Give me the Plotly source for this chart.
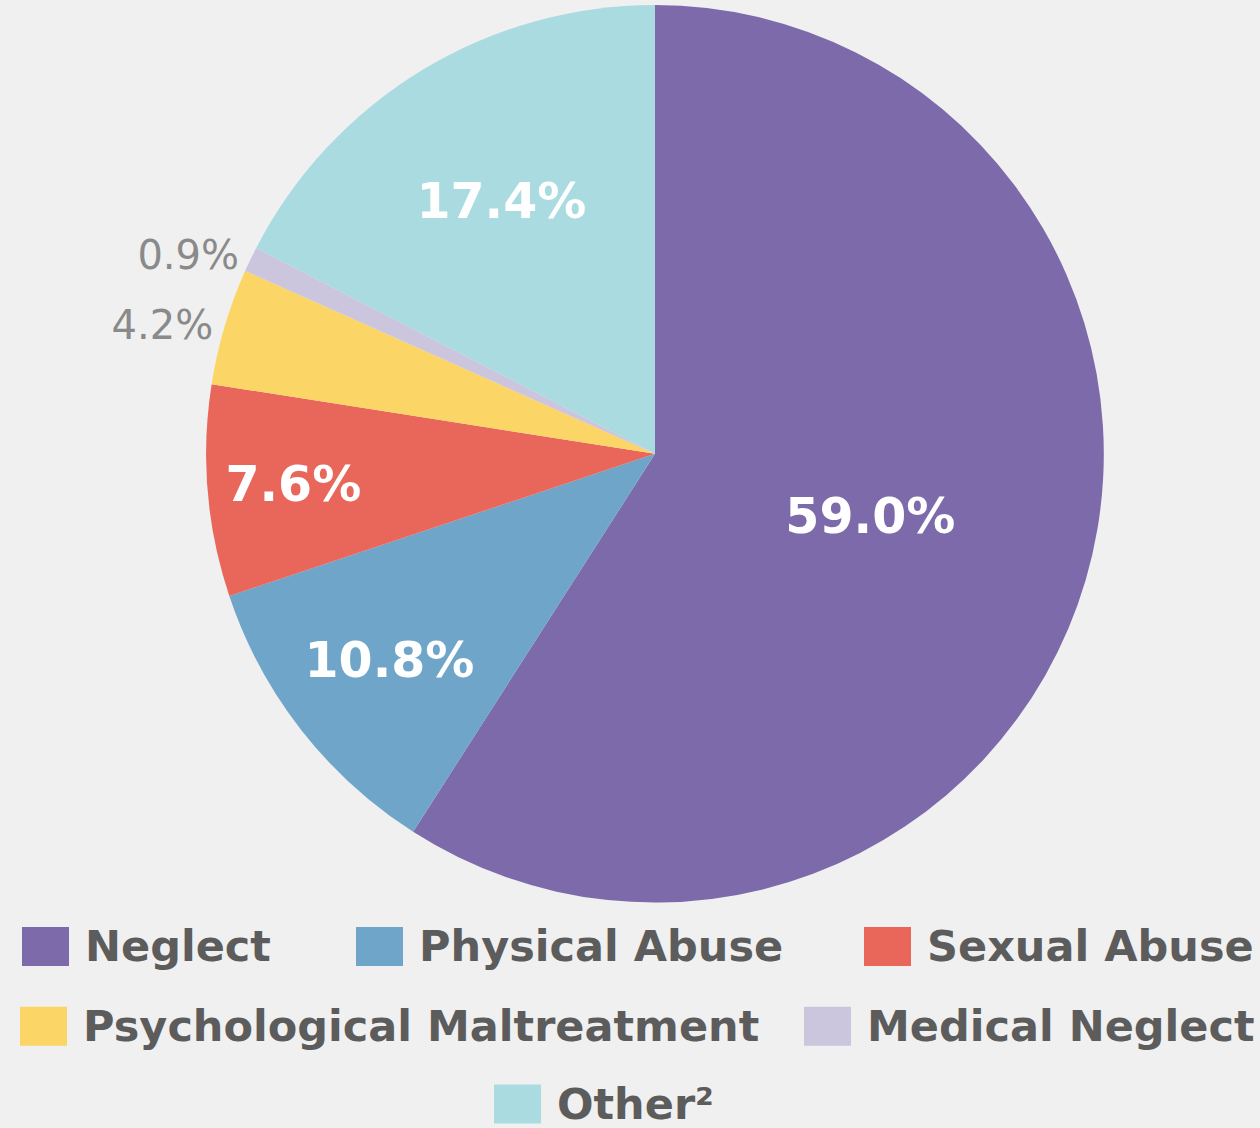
import plotly.graph_objects as go

categories = ["Neglect", "Physical Abuse", "Sexual Abuse",
              "Psychological Maltreatment", "Medical Neglect", "Other²"]
values = [59.0, 10.8, 7.6, 4.2, 0.9, 17.4]
value_labels = ["59.0%", "10.8%", "7.6%", "4.2%", "0.9%", "17.4%"]
colors = ["#7d6aaa", "#6ea5c9", "#e9665a", "#fbd566", "#cbc6de", "#a9dbe0"]
label_positions = ["inside", "inside", "inside", "outside", "outside", "inside"]

W, H = 1260, 1128
CX, CY, R = 655, 452, 450

fig = go.Figure()
fig.add_trace(go.Pie(
    labels=categories,
    values=values,
    text=value_labels,
    textinfo="text",
    textposition=label_positions,
    insidetextorientation="horizontal",
    insidetextfont=dict(family="DejaVu Sans", size=49, color="white", weight="bold"),
    outsidetextfont=dict(family="DejaVu Sans", size=40, color="#8a8a8a"),
    marker=dict(colors=colors, line=dict(width=0)),
    sort=False,
    direction="clockwise",
    rotation=0,
    showlegend=False,
    hoverinfo="label+text",
    domain=dict(x=[(CX - R) / W, (CX + R) / W], y=[1 - (CY + R) / H, 1 - (CY - R) / H]),
))

# Custom legend (large swatches) built from the category/color lists
legend_rows = [[0, 1, 2], [3, 4], [5]]
swatch_x = {0: 22, 1: 356, 2: 864, 3: 20, 4: 804, 5: 494}
row_y = [946, 1026, 1104]
sw_w, sw_h = 47, 39
shapes = []
annotations = []
for r, row in enumerate(legend_rows):
    cy = row_y[r]
    for i in row:
        x0 = swatch_x[i]
        shapes.append(dict(type="rect", xref="paper", yref="paper",
                           x0=x0 / W, x1=(x0 + sw_w) / W,
                           y0=1 - (cy + sw_h / 2) / H, y1=1 - (cy - sw_h / 2) / H,
                           fillcolor=colors[i], line=dict(width=0)))
        annotations.append(dict(xref="paper", yref="paper",
                                x=(x0 + sw_w + 14) / W, y=1 - cy / H,
                                xanchor="left", yanchor="middle",
                                text=categories[i], showarrow=False,
                                font=dict(family="DejaVu Sans", size=43,
                                          color="#5c5c5c", weight="bold")))

fig.update_layout(
    width=W, height=H,
    margin=dict(l=0, r=0, t=0, b=0),
    paper_bgcolor="#f0f0f0",
    plot_bgcolor="#f0f0f0",
    shapes=shapes,
    annotations=annotations,
)

fig.write_html("out.html", config={"displayModeBar": False},
               post_script="document.body.style.margin='0';document.body.style.overflow='hidden';")
